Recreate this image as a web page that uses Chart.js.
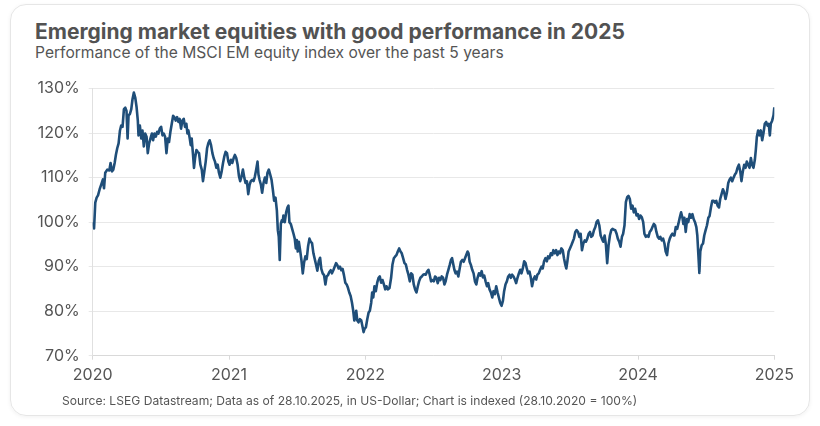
<!DOCTYPE html>
<html>
<head>
<meta charset="utf-8">
<script src="https://cdn.jsdelivr.net/npm/chart.js@4.4.1/dist/chart.umd.min.js"></script>
<style>
  html, body { margin: 0; padding: 0; background: #fff; }
  body { width: 820px; height: 426px; position: relative; overflow: hidden; font-family: Inter, "Noto Sans", sans-serif; color: #555; }
  .card { position: absolute; left: 10px; top: 4px; width: 800px; height: 412px; border: 1px solid #e6e6e6; border-radius: 16px; box-shadow: 0 1px 4px rgba(0,0,0,0.06); box-sizing: border-box; }
  h1 { position: absolute; left: 35px; top: 19px; margin: 0; font-size: 21px; font-weight: 700; color: #525252; white-space: nowrap; }
  .sub { position: absolute; left: 35px; top: 43px; font-size: 15.6px; color: #555; white-space: nowrap; }
  .src { position: absolute; left: 62px; top: 393px; font-size: 12.1px; color: #555; white-space: nowrap; }
  .wrap { position: absolute; left: 20px; top: 70px; width: 780px; height: 325px; }
</style>
</head>
<body>
<div class="card"></div>
<h1>Emerging market equities with good performance in 2025</h1>
<div class="sub">Performance of the MSCI EM equity index over the past 5 years</div>
<div class="wrap"><canvas id="emChart"></canvas></div>
<div class="src">Source: LSEG Datastream; Data as of 28.10.2025, in US-Dollar; Chart is indexed (28.10.2020 = 100%)</div>
<script>
// tick labels
const yearLabels = ['2020', '2021', '2022', '2023', '2024', '2025'];
const yTicks = [70, 80, 90, 100, 110, 120, 130];

// time in years since start of the index
const years = [
  0.000, 0.010, 0.019, 0.029, 0.039, 0.051, 0.063, 0.075, 0.083, 0.092, 0.107, 0.122, 0.131, 0.141, 0.151, 0.161,
  0.170, 0.180, 0.190, 0.200, 0.209, 0.219, 0.229, 0.239, 0.248, 0.256, 0.263, 0.273, 0.283, 0.292, 0.302, 0.312,
  0.322, 0.331, 0.336, 0.346, 0.356, 0.365, 0.375, 0.385, 0.395, 0.404, 0.414, 0.424, 0.434, 0.443, 0.453, 0.463,
  0.473, 0.482, 0.492, 0.502, 0.512, 0.521, 0.531, 0.541, 0.551, 0.560, 0.570, 0.580, 0.590, 0.599, 0.609, 0.619,
  0.629, 0.638, 0.648, 0.658, 0.668, 0.677, 0.687,
  0.695, 0.702, 0.712, 0.719, 0.726, 0.736, 0.743, 0.751, 0.761, 0.770, 0.780, 0.790, 0.800, 0.809, 0.819, 0.829,
  0.839, 0.848, 0.858, 0.868, 0.878, 0.887, 0.897, 0.907, 0.917, 0.926, 0.936, 0.946, 0.956, 0.965, 0.975, 0.985,
  0.995, 1.004, 1.014, 1.024, 1.034, 1.043, 1.053, 1.063, 1.073, 1.082, 1.092, 1.102, 1.112, 1.121, 1.131, 1.141,
  1.151, 1.160, 1.170, 1.180, 1.190, 1.199, 1.209, 1.216, 1.224, 1.234, 1.243, 1.253, 1.263, 1.273, 1.282, 1.292,
  1.302, 1.312, 1.321, 1.331, 1.341, 1.351, 1.358, 1.365, 1.372, 1.380, 1.387, 1.394,
  1.399, 1.409, 1.419, 1.429, 1.436, 1.443, 1.453, 1.463, 1.473, 1.482, 1.490, 1.497, 1.504, 1.512, 1.521, 1.531,
  1.541, 1.551, 1.560, 1.570, 1.580, 1.590, 1.599, 1.609, 1.619, 1.629, 1.638, 1.648, 1.658, 1.668, 1.677, 1.687,
  1.697, 1.707, 1.716, 1.726, 1.736, 1.746, 1.755, 1.765, 1.775, 1.785, 1.794, 1.804, 1.814, 1.824, 1.833, 1.843,
  1.853, 1.863, 1.872, 1.882, 1.892, 1.902, 1.911, 1.919, 1.926, 1.933, 1.941, 1.950, 1.960, 1.970, 1.980, 1.987,
  1.994, 2.004, 2.014, 2.024, 2.033, 2.043, 2.050, 2.058, 2.067, 2.077, 2.087, 2.097, 2.106, 2.116,
  2.126, 2.136, 2.146, 2.155, 2.165, 2.177, 2.189, 2.199, 2.209, 2.219, 2.228, 2.238, 2.248, 2.258, 2.267, 2.277,
  2.287, 2.297, 2.306, 2.316, 2.326, 2.336, 2.345, 2.355, 2.365, 2.375, 2.385, 2.394, 2.404, 2.414, 2.424, 2.433,
  2.443, 2.453, 2.463, 2.472, 2.482, 2.492, 2.502, 2.511, 2.521, 2.531, 2.541, 2.550, 2.560, 2.570, 2.580, 2.589,
  2.599, 2.609, 2.619, 2.628, 2.636, 2.643, 2.653, 2.662, 2.672, 2.682, 2.692, 2.701, 2.711, 2.721, 2.731, 2.740,
  2.750, 2.757, 2.765, 2.774, 2.784, 2.794, 2.804, 2.814, 2.823,
  2.833, 2.843, 2.853, 2.862, 2.872, 2.882, 2.892, 2.901, 2.911, 2.921, 2.931, 2.940, 2.950, 2.960, 2.970, 2.979,
  2.989, 2.999, 3.009, 3.018, 3.028, 3.038, 3.048, 3.058, 3.067, 3.077, 3.087, 3.097, 3.106, 3.116, 3.126, 3.136,
  3.145, 3.155, 3.165, 3.175, 3.184, 3.194, 3.204, 3.214, 3.223, 3.233, 3.243, 3.253, 3.262, 3.272, 3.282, 3.292,
  3.301, 3.311, 3.321, 3.331, 3.340, 3.350, 3.360, 3.370, 3.379, 3.389, 3.399, 3.409, 3.418, 3.428, 3.438, 3.448,
  3.457, 3.467, 3.474, 3.482, 3.491, 3.501, 3.511, 3.521, 3.530, 3.540, 3.550,
  3.560, 3.570, 3.579, 3.589, 3.599, 3.609, 3.618, 3.628, 3.638, 3.648, 3.657, 3.667, 3.677, 3.687, 3.696, 3.706,
  3.716, 3.726, 3.735, 3.745, 3.755, 3.765, 3.774, 3.784, 3.794, 3.804, 3.813, 3.823, 3.833, 3.843, 3.852, 3.862,
  3.872, 3.882, 3.891, 3.901, 3.911, 3.921, 3.930, 3.940, 3.950, 3.960, 3.969, 3.979, 3.989, 3.999, 4.008, 4.018,
  4.028, 4.038, 4.047, 4.057, 4.067, 4.077, 4.086, 4.096, 4.106, 4.116, 4.125, 4.135, 4.145, 4.155, 4.164, 4.174,
  4.184, 4.194, 4.203, 4.213, 4.223, 4.233, 4.243, 4.252, 4.262,
  4.267, 4.277, 4.287, 4.296, 4.306, 4.316, 4.326, 4.333, 4.340, 4.350, 4.360, 4.369, 4.379, 4.389, 4.399, 4.408,
  4.418, 4.428, 4.435, 4.443, 4.450, 4.457, 4.467, 4.477, 4.486, 4.496, 4.506, 4.516, 4.525, 4.535, 4.545, 4.555,
  4.564, 4.574, 4.584, 4.594, 4.603, 4.613, 4.623, 4.633, 4.642, 4.652, 4.662, 4.672, 4.681, 4.691, 4.701, 4.711,
  4.720, 4.730, 4.740, 4.750, 4.759, 4.769, 4.779, 4.789, 4.798, 4.808, 4.818, 4.828, 4.837, 4.847, 4.857, 4.864,
  4.872, 4.881, 4.891, 4.901, 4.911, 4.920, 4.930, 4.940, 4.950, 4.959, 4.967, 4.974, 4.984, 4.994, 5.000
];

// MSCI EM index, 28.10.2020 = 100%
const indexValues = [
  100, 98.6, 104.4, 105.5, 106, 107.4, 108.5, 109.6, 107.6, 111.1, 111.8, 111.6, 113.3, 111.4, 111.8, 113.3,
  115.1, 116.6, 117.7, 120.6, 121.7, 121.4, 125.4, 125.7, 125, 118.8, 124, 124.3, 125.4, 127.6, 129.1, 128,
  125.8, 122.8, 119.5, 121.7, 118.8, 120.6, 117, 119.9, 119.2, 115.5, 117.7, 118.8, 119.9, 118.4, 119.9, 119.2,
  120.3, 119.9, 121, 121.4, 119.5, 119.9, 119.2, 115.5, 118.8, 118, 120.3, 122.1, 123.9, 123.6, 122.8, 123.6,
  122.5, 123.2, 121, 122.8, 123.2, 121.4, 122.1,
  119.9, 120.6, 118.8, 117.3, 118.8, 115.1, 112.2, 114.4, 116.2, 115.8, 115.5, 112.9, 111.8, 109.2, 111.4, 113.6,
  116.6, 117.7, 118.4, 117.3, 115.5, 114.4, 113.6, 112.2, 112.9, 111.1, 110, 111.4, 113.3, 114.7, 115.8, 115.5,
  113.6, 112.9, 114, 113.3, 114.4, 115.1, 114.4, 112.9, 110.3, 109.2, 110.3, 111.8, 110, 108.8, 109.2, 106.3,
  108.4, 109.2, 109.5, 109.2, 110.3, 111.8, 113.6, 110.7, 109.5, 108.4, 106.6, 108.8, 110, 108.8, 111.1, 111.8,
  110.7, 109.5, 107.4, 104.8, 105.5, 102.6, 98.2, 96.7, 91.5, 99.6, 100.4, 100.1,
  101.5, 100, 102.2, 103.3, 103.7, 100, 99.6, 98.5, 97.4, 96.3, 94.1, 96, 93.4, 95.6, 93.8, 91.5,
  88.5, 91, 92.3, 91.7, 94.6, 96.3, 95.6, 95.3, 93, 91.7, 90.5, 89.1, 91.2, 92, 89.5, 88.5,
  88.1, 86, 87.8, 88.1, 88.8, 89.2, 88.5, 89.2, 90, 90.8, 90.4, 89.6, 90, 89.2, 89.5, 88.1,
  86.4, 86, 85.3, 84.2, 83.4, 81.9, 80.1, 77.9, 78.6, 80.1, 77.9, 77.5, 78.2, 77.9, 76.4, 75.3,
  76, 76.4, 78.2, 79.7, 80.1, 81.9, 84.2, 83.1, 85.6, 84.5, 86.4, 87.5, 87.8, 86.4,
  87, 86, 84.9, 85.6, 84.9, 85.2, 87.5, 90.5, 91.9, 92.3, 92.6, 93.4, 94.1, 93.4, 93, 91.9,
  90.8, 90.5, 89.3, 88.2, 86.7, 88.5, 88.2, 86, 84.9, 84.2, 85.6, 86.7, 87.5, 87.8, 88.2, 88.3,
  88.2, 88.9, 89.3, 88.2, 86.7, 87, 86.7, 87.8, 87.5, 86.3, 87.5, 87, 87.8, 87.5, 86, 86.7,
  88.2, 89.3, 90.4, 91.5, 91.9, 90.8, 89.3, 88.5, 88.9, 87.8, 89.6, 91.1, 91.5, 91.1, 91.9, 92.6,
  93.4, 93, 91.1, 90.4, 89.3, 88.5, 86.7, 86, 87.5,
  88.5, 88, 89, 87.6, 88, 86.7, 85.6, 86.3, 84.9, 84.2, 83.1, 84.5, 83.8, 85.6, 84.2, 83.1,
  81.9, 81.2, 82.3, 84.5, 86, 86.7, 87.8, 88.2, 87.5, 88.2, 87.8, 87.1, 86.3, 87.5, 88.5, 89.3,
  88.5, 89.6, 91.2, 90.8, 89.6, 88.5, 88.9, 87.5, 85.6, 87.1, 87.8, 87.1, 88.2, 88.5, 89.3, 90,
  89.6, 91.2, 91.9, 91.2, 92.3, 91.9, 93, 92.6, 93.7, 93, 93.7, 92.6, 93.4, 93, 94.1, 93.7,
  91.9, 90.4, 89.6, 91.2, 93.4, 94.1, 94.8, 95.6, 96.3, 97.8, 98.2,
  97.8, 96.7, 97.4, 93.7, 95.2, 95.9, 95.6, 96.3, 97.4, 97.8, 96.7, 97, 98.2, 98.9, 100, 100.4,
  99.3, 97, 96.3, 95.6, 97, 94.8, 90.8, 94.8, 97, 98.2, 98.5, 98.3, 98.2, 97.4, 96.3, 95.6,
  94.5, 96.7, 97.4, 99.3, 104.5, 105.6, 105.9, 105.2, 103, 103.7, 102.2, 103, 101.5, 101.8, 100.7, 101.5,
  101.1, 100, 97.4, 96.7, 97, 96.7, 97.8, 98.2, 98.9, 99.6, 99.3, 97.8, 96.7, 96.3, 96.7, 95.9,
  96.3, 95.2, 93.4, 92.6, 95.2, 96.3, 97, 97.4, 97,
  97, 98.9, 98.5, 99.6, 101, 102.2, 101, 99.6, 101, 97.8, 100.7, 100, 101.8, 101, 101.8, 100.7,
  100, 98.9, 97, 92.6, 88.6, 93.4, 94.8, 95.2, 97, 98.2, 99.3, 101, 101.4, 103.3, 104.8, 104.8,
  104.4, 104.8, 103.7, 103.3, 105.2, 106.3, 107.4, 106.6, 105.2, 106.6, 108.8, 109.6, 110, 109.2, 110, 110.7,
  111.1, 112.2, 112.9, 111.4, 109.2, 111.4, 112.9, 112.2, 113.6, 112.9, 112.2, 114.4, 112.9, 112.2, 114, 116.2,
  119.2, 120.6, 119.5, 120.6, 118.4, 119.9, 122.1, 122.5, 121.7, 122.1, 119.5, 122.1, 122.8, 124, 125.8
];

const points = years.map((t, i) => ({ x: t, y: indexValues[i] }));

Chart.defaults.font.family = 'Inter, "Noto Sans", sans-serif';
Chart.defaults.color = '#555';

const ctx = document.getElementById('emChart');
new Chart(ctx, {
  type: 'line',
  data: {
    datasets: [{
      label: 'MSCI EM',
      data: points,
      borderColor: '#1f4e79',
      borderWidth: 2.6,
      borderJoinStyle: 'round',
      pointRadius: 0,
      tension: 0,
      fill: false
    }]
  },
  options: {
    responsive: true,
    maintainAspectRatio: false,
    animation: false,
    layout: { padding: { top: 14.3, right: 23.3, left: 0, bottom: 0 } },
    plugins: {
      legend: { display: false },
      tooltip: { enabled: false }
    },
    scales: {
      x: {
        type: 'linear',
        min: 0,
        max: 5,
        afterFit: s => { s.height = 39.3; },
        afterBuildTicks: s => { s.ticks = yearLabels.map((_, i) => ({ value: i })); },
        ticks: {
          autoSkip: false,
          maxRotation: 0,
          padding: 6,
          font: { size: 16 },
          color: '#555',
          callback: v => yearLabels[v]
        },
        grid: { drawOnChartArea: false, drawTicks: true, tickLength: 4, color: '#d9d9d9' },
        border: { display: true, color: '#d9d9d9' }
      },
      y: {
        min: 70,
        max: 130,
        afterFit: s => { s.width = 72.7; },
        afterBuildTicks: s => { s.ticks = yTicks.map(v => ({ value: v })); },
        ticks: {
          padding: 9,
          font: { size: 16 },
          color: '#555',
          callback: v => v + '%'
        },
        grid: { color: '#e8e8e8', tickLength: 4 },
        border: { display: true, color: '#e0e0e0' }
      }
    }
  }
});
</script>
</body>
</html>
